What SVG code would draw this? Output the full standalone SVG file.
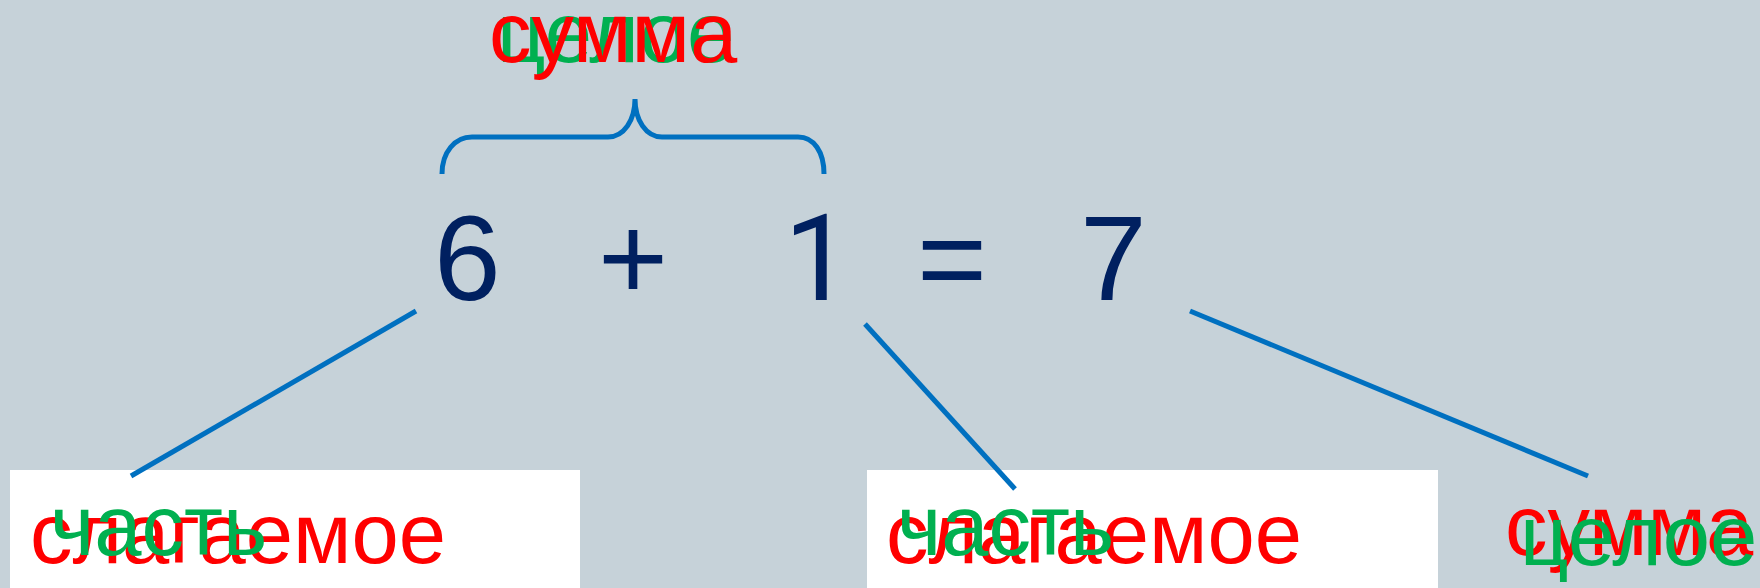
<svg xmlns="http://www.w3.org/2000/svg" width="1760" height="588" viewBox="0 0 1760 588">
<style>
.t{font-family:"Liberation Sans",Arial,sans-serif;font-size:85px}
.r{fill:#ff0000}
.g{fill:#00b050}
.d{font-family:"Liberation Sans",Arial,sans-serif;font-size:120px;fill:#002060}
.one{font-family:Roboto,"Liberation Sans",sans-serif;font-size:120px;fill:#002060}
.ln{stroke:#0070c0;stroke-width:5;fill:none}
.box{fill:#ffffff}
</style>
<rect x="0" y="0" width="1760" height="588" fill="#c6d2d9"/>
<g id="addend1">
<rect class="box" x="10" y="470" width="570" height="118"/>
<text class="t r" x="30" y="563">слагаемое</text>
<text class="t g" x="50" y="555">часть</text>
</g>
<g id="addend2">
<rect class="box" x="867" y="470" width="571" height="118"/>
<text class="t r" x="886" y="563">слагаемое</text>
<text class="t g" x="897" y="555">часть</text>
</g>
<g id="connectors">
<path class="ln" d="M442,174 C442,152 455,137 472,137 L608,137 C624,137 635,120 635,99 C635,120 646,137 662,137 L798,137 C814,137 824,152 824,174"/>
<line class="ln" x1="416" y1="311" x2="131" y2="476"/>
<line class="ln" x1="865" y1="324" x2="1015" y2="489"/>
<line class="ln" x1="1190" y1="311" x2="1588" y2="476"/>
</g>
<g id="top-label">
<text class="t g" x="497" y="62">целое</text>
<text class="t r" x="489" y="62">сумма</text>
</g>
<g id="equation">
<text class="d" x="434" y="300">6</text>
<text class="d" x="598" y="300">+</text>
<text class="one" x="784" y="300">1</text>
<text class="d" x="917" y="300">=</text>
<text class="d" x="1080" y="300">7</text>
</g>
<g id="sum">
<text class="t r" x="1505" y="555">сумма</text>
<text class="t g" x="1520" y="565">целое</text>
</g>
</svg>
